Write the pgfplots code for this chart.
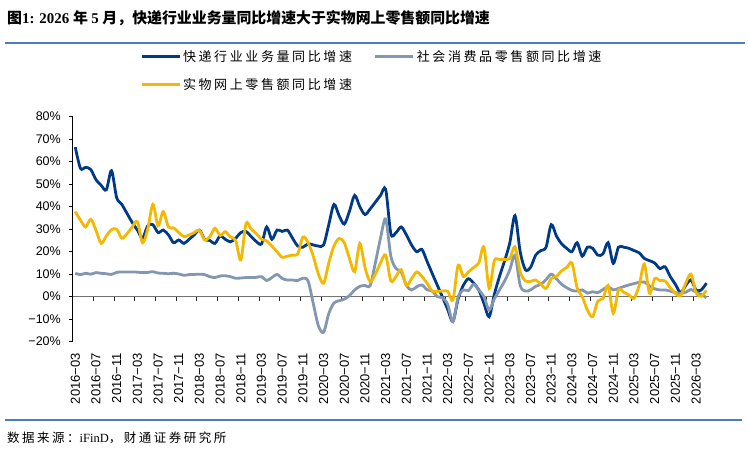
\documentclass[border=0pt]{standalone}
\usepackage{pgfplots}
\pgfplotsset{compat=1.18}
\usepackage{pgfplotstable}
\usepackage{fontspec}
\setmainfont{Liberation Sans}
\newfontfamily\cjk{Noto Sans CJK SC}
\newfontfamily\cjksp{Noto Sans CJK SC}[LetterSpace=20]
\newfontfamily\tnr{Liberation Serif}
\definecolor{cblue}{HTML}{003A87}
\definecolor{cgray}{HTML}{8497B0}
\definecolor{cyel}{HTML}{F5B800}
\definecolor{rule}{HTML}{4A7EBB}
\pgfplotstableread{
i B G Y
0 66.5 10.4 37.8
1 57 9.8 34
2 57.5 10.4 31
3 56.5 10 34.4
4 52 10.7 29.5
5 49.5 10.4 23.7
6 47.5 10.2 27
7 56 9.9 29.8
8 44 10.8 30
9 41 11 26
10 37 11 28
11 33 11 31
12 29.6 10.9 33.3
13 26 10.7 24
14 31.5 10.8 30
15 32 11.1 41
16 28.5 10.5 31.5
17 29.6 10.4 37.8
18 27.5 10.2 31
19 24 10.4 30.6
20 25.2 10.1 28.5
21 23.7 9.5 26.7
22 25.5 9.8 27.4
23 27.5 9.9 28.5
24 29.6 10 29.6
25 25.5 9.8 25.2
26 25 8.9 26.7
27 23.7 8.5 30.4
28 27 9.2 27.2
29 25.5 9.3 28.9
30 24.4 8.9 26.5
31 26 8.2 25
32 28.5 8.3 16.3
33 29 8.5 32.5
34 26.7 8.5 30
35 24.5 8.6 28
36 23.5 8.9 25.5
37 31 7.2 24.8
38 25.5 8.5 22.5
39 29.6 9.9 20
40 29 8.1 17.5
41 29.6 7.4 18
42 26 7.4 18.5
43 22.5 7.2 19
44 22 8.2 26.5
45 23.5 7 24
46 23 -3 18
47 22.5 -13 10
48 23 -15.8 6
49 32 -7.5 15
50 41 -2.8 22.5
51 36 -1.8 25.9
52 32.3 -1.1 24
53 38 0.5 17
54 45 3 11.1
55 40 4.6 23.7
56 36.5 5 13
57 39 5 6.7
58 42 15 10
59 45 26 15
60 47.7 34.5 18.5
61 28 18 7
62 28.5 12.5 9
63 31 11 12
64 27.5 5 5
65 23 3 8
66 20 4.4 11
67 21 5.2 9
68 15.7 3.1 6
69 10.3 2.5 2.5
70 5 0 2.4
71 -0.3 -0.5 2.5
72 -5.7 -3.5 2.4
73 -11 -11.1 -1.5
74 -1 -0.2 14
75 5 3 9
76 8 2.7 11
77 6 5.5 13
78 3 3 15
79 -3 0 22
80 -8.9 -5.9 3.7
81 1 -1 16
82 9 3 16.5
83 16 7 16.6
84 24 12 17
85 36 18.4 22.2
86 20 5 11
87 12 2.5 7
88 13 3 6.8
89 18.5 4.6 7.4
90 20.5 5.5 5.5
91 22 7.6 3.7
92 32 10 8
93 27 8 9
94 23.5 5.5 11.5
95 21.5 4 13
96 20 2.8 15
97 24 2.5 4
98 18 3 0
99 22 1.6 -6
100 21.5 2.2 -8.9
101 18.5 1.8 -2
102 19 3.2 -0.8
103 24 4.4 5
104 14.8 3 -7.4
105 22 3.7 3
106 22 4.5 2
107 21.5 5.2 0.8
108 20.5 5.8 -0.7
109 19.5 6.4 5
110 17 6.5 14.5
111 16 4.8 1.5
112 15 3.5 8
113 12.5 3 7.2
114 13.3 3 7
115 9 2.5 4
116 5.5 1.8 1.5
117 1.8 1.5 0.5
118 5 2 6
119 7.5 3.2 10
120 3 2 1.8
121 3 1 0.2
122 6 -0.5 2.8
}\data
\begin{document}
\begin{tikzpicture}
\path[use as bounding box] (0pt,0pt) rectangle (748pt,452pt);
\node[anchor=west, inner sep=0pt] at (7pt,434pt) {\fontsize{14.9}{16}\selectfont\bfseries{\cjk 图}{\tnr 1: 2026 }{\cjk 年 }{\tnr 5 }{\cjk 月，快递行业业务量同比增速大于实物网上零售额同比增速}};
\draw[rule, line width=1.3pt] (5pt,409pt) -- (745pt,409pt);
\draw[rule, line width=1.3pt] (5pt,32pt) -- (742pt,32pt);
\node[anchor=west, inner sep=0pt] at (7pt,14pt) {\fontsize{12.5}{14}\selectfont{\cjksp 数据来源：}{\tnr iFinD}{\cjksp ，财通证券研究所}};
% zero line with ticks
\begin{axis}[at={(72.7pt,155.3pt)}, anchor=south west, scale only axis,
  width=636.3pt, height=180pt, xmin=-0.5, xmax=122.5, ymin=0, ymax=80,
  axis x line*=bottom, axis y line=none,
  x axis line style={-, draw=black!55, line width=1pt},
  xtick={-0.5,3.5,...,119.5}, xticklabels={}, tick align=outside,
  major tick length=4.5pt, xtick style={draw=black!85, line width=0.8pt}, ytick=\empty]
\end{axis}
\begin{axis}[at={(72.7pt,110.3pt)}, anchor=south west, scale only axis,
  width=636.3pt, height=225pt, xmin=-0.5, xmax=122.5, ymin=-20, ymax=80,
  axis x line*=bottom, axis y line*=left,
  x axis line style={draw=none},
  y axis line style={-, draw=black, line width=0.8pt},
  tick align=outside, major tick length=3.3pt,
  ytick={-20,-10,...,80},
  yticklabels={−20\%,−10\%,0\%,10\%,20\%,30\%,40\%,50\%,60\%,70\%,80\%},
  ytick style={draw=black, line width=0.8pt},
  yticklabel style={inner sep=0pt, font=\fontsize{12.5}{14}\selectfont},
  yticklabel shift=8.4pt,
  xtick={0,4,...,120},
  xticklabels={2016−03,2016−07,2016−11,2017−03,2017−07,2017−11,2018−03,2018−07,2018−11,2019−03,2019−07,2019−11,2020−03,2020−07,2020−11,2021−03,2021−07,2021−11,2022−03,2022−07,2022−11,2023−03,2023−07,2023−11,2024−03,2024−07,2024−11,2025−03,2025−07,2025−11,2026−03},
  xtick style={draw=none},
  xticklabel style={rotate=90, anchor=east, inner sep=0pt, font=\fontsize{13}{14}\selectfont},
  xticklabel shift=8pt,
  legend columns=2,
  legend cell align=left,
  legend style={draw=none, fill=none, at={(0.1058,1.3034)}, anchor=north west,
    inner sep=0pt, font=\fontsize{13}{15}\selectfont\cjksp, row sep=11.5pt,
    /tikz/every even column/.append style={column sep=20pt}},
  legend image code/.code={\draw[#1, line width=2.8pt] (0pt,0pt) -- (38pt,0pt);},
  clip=false]
\addplot[cblue, line width=2.8pt, smooth] table[x=i, y=B] {\data};
\addlegendentry{快递行业业务量同比增速}
\addplot[cgray, line width=2.8pt, smooth] table[x=i, y=G] {\data};
\addlegendentry{社会消费品零售额同比增速}
\addplot[cyel, line width=2.8pt, smooth] table[x=i, y=Y] {\data};
\addlegendentry{实物网上零售额同比增速}
\end{axis}
\end{tikzpicture}
\end{document}
